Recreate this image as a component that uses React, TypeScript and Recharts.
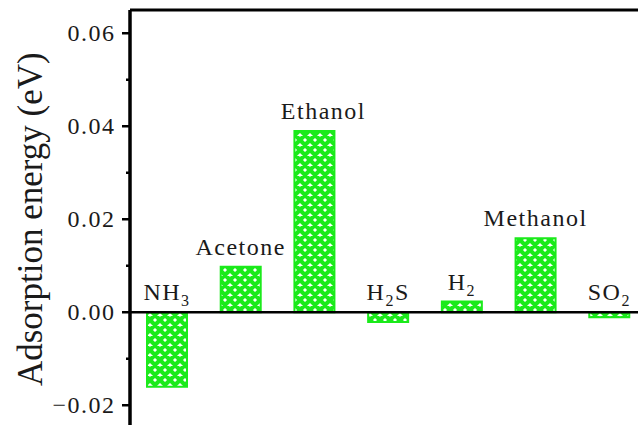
import { Bar, BarChart, LabelList, ReferenceLine, XAxis, YAxis } from "recharts";

const categories = ["NH3", "Acetone", "Ethanol", "H2S", "H2", "Methanol", "SO2"];
const energies = [-0.016, 0.0098, 0.039, -0.0021, 0.0023, 0.0159, -0.0011];

const majorTicks = [-0.02, 0, 0.02, 0.04, 0.06];
const minorTicks = [-0.01, 0.01, 0.03, 0.05];
const yDomain = [-0.025, 0.065];

const data = categories.map((name, i) => ({ name, energy: energies[i] }));
const allTicks = [...majorTicks, ...minorTicks].sort((a, b) => a - b);

const FONT = "Liberation Serif";
const GREEN = "#1bea1b";
const INK = "#1a1a1a";
const labelShiftX: Record<string, number> = { Ethanol: 9 };

// wide-set serif text used for tick labels and bar names
const textStyle = { fontFamily: FONT, fontSize: 24, letterSpacing: 1.5, fill: INK };

const isMajor = (v: number) => majorTicks.some((t) => Math.abs(t - v) < 1e-9);
const fmt = (v: number) => (Math.abs(v) < 1e-9 ? "0.00" : v.toFixed(2).replace("-", "\u2212"));

function YTick(props: any) {
  const { x, y, payload } = props;
  const v = payload.value as number;
  const major = isMajor(v);
  return (
    <g>
      <line x1={x + (major ? 8 : 12)} x2={x + 16} y1={y} y2={y} stroke="#000" strokeWidth={2.5} />
      {major && (
        <text x={x + 1.5} y={y} textAnchor="end" dy="0.34em" style={textStyle}>
          {fmt(v)}
        </text>
      )}
    </g>
  );
}

// chemical formulas: digits become subscripts
function Formula({ text }: { text: string }) {
  const parts = text.split(/(\d+)/).filter(Boolean);
  let lowered = false;
  return (
    <>
      {parts.map((p, i) => {
        const digit = /^\d+$/.test(p);
        const dy = digit && !lowered ? 6 : !digit && lowered ? -6 : 0;
        lowered = digit;
        return (
          <tspan key={i} dy={dy} style={{ fontSize: digit ? 16 : 24 }}>
            {p}
          </tspan>
        );
      })}
    </>
  );
}

function BarName(props: any) {
  const { x, y, width, height, value } = props;
  const top = Math.min(y, y + height);
  const cx = x + width / 2 + (labelShiftX[value] ?? 0);
  return (
    <text x={cx} y={top - 12} textAnchor="middle" style={textStyle}>
      <Formula text={String(value)} />
    </text>
  );
}

function AxisTitle(props: any) {
  const vb = props.viewBox;
  return (
    <text
      transform={`translate(${vb.x + 42},${vb.y + vb.height / 2}) rotate(-90)`}
      textAnchor="middle"
      style={{ fontFamily: FONT, fontSize: 35, fill: INK }}
    >
      Adsorption energy (eV)
    </text>
  );
}

export default function App() {
  return (
    <div
      style={{
        position: "fixed",
        left: 0,
        top: 0,
        width: 638,
        height: 425,
        overflow: "hidden",
        background: "#fff",
      }}
    >
      <BarChart
        width={660}
        height={434}
        data={data}
        margin={{ top: 10, right: 14, bottom: 5.5, left: 0 }}
        barSize={40}
      >
        <defs>
          <pattern id="crosshatch" width={10} height={10} patternUnits="userSpaceOnUse">
            <rect width={10} height={10} fill="#fff" />
            <path
              d="M0,0L10,10M0,10L10,0M5,-5L15,5M-5,5L5,15M-5,5L5,-5M5,15L15,5"
              stroke={GREEN}
              strokeWidth={4.2}
            />
          </pattern>
        </defs>
        <XAxis dataKey="name" hide />
        <YAxis
          type="number"
          domain={yDomain}
          ticks={allTicks}
          interval={0}
          width={130}
          tickSize={0}
          tickMargin={16}
          tickLine={false}
          tick={<YTick />}
          axisLine={{ stroke: "#000", strokeWidth: 3.5 }}
          label={{ content: <AxisTitle /> }}
        />
        <Bar dataKey="energy" fill="url(#crosshatch)" stroke={GREEN} strokeWidth={2} isAnimationActive={false}>
          <LabelList dataKey="name" content={<BarName />} />
        </Bar>
        <ReferenceLine y={0} stroke="#000" strokeWidth={2.5} />
        <ReferenceLine y={yDomain[1]} stroke="#000" strokeWidth={3} />
      </BarChart>
    </div>
  );
}
